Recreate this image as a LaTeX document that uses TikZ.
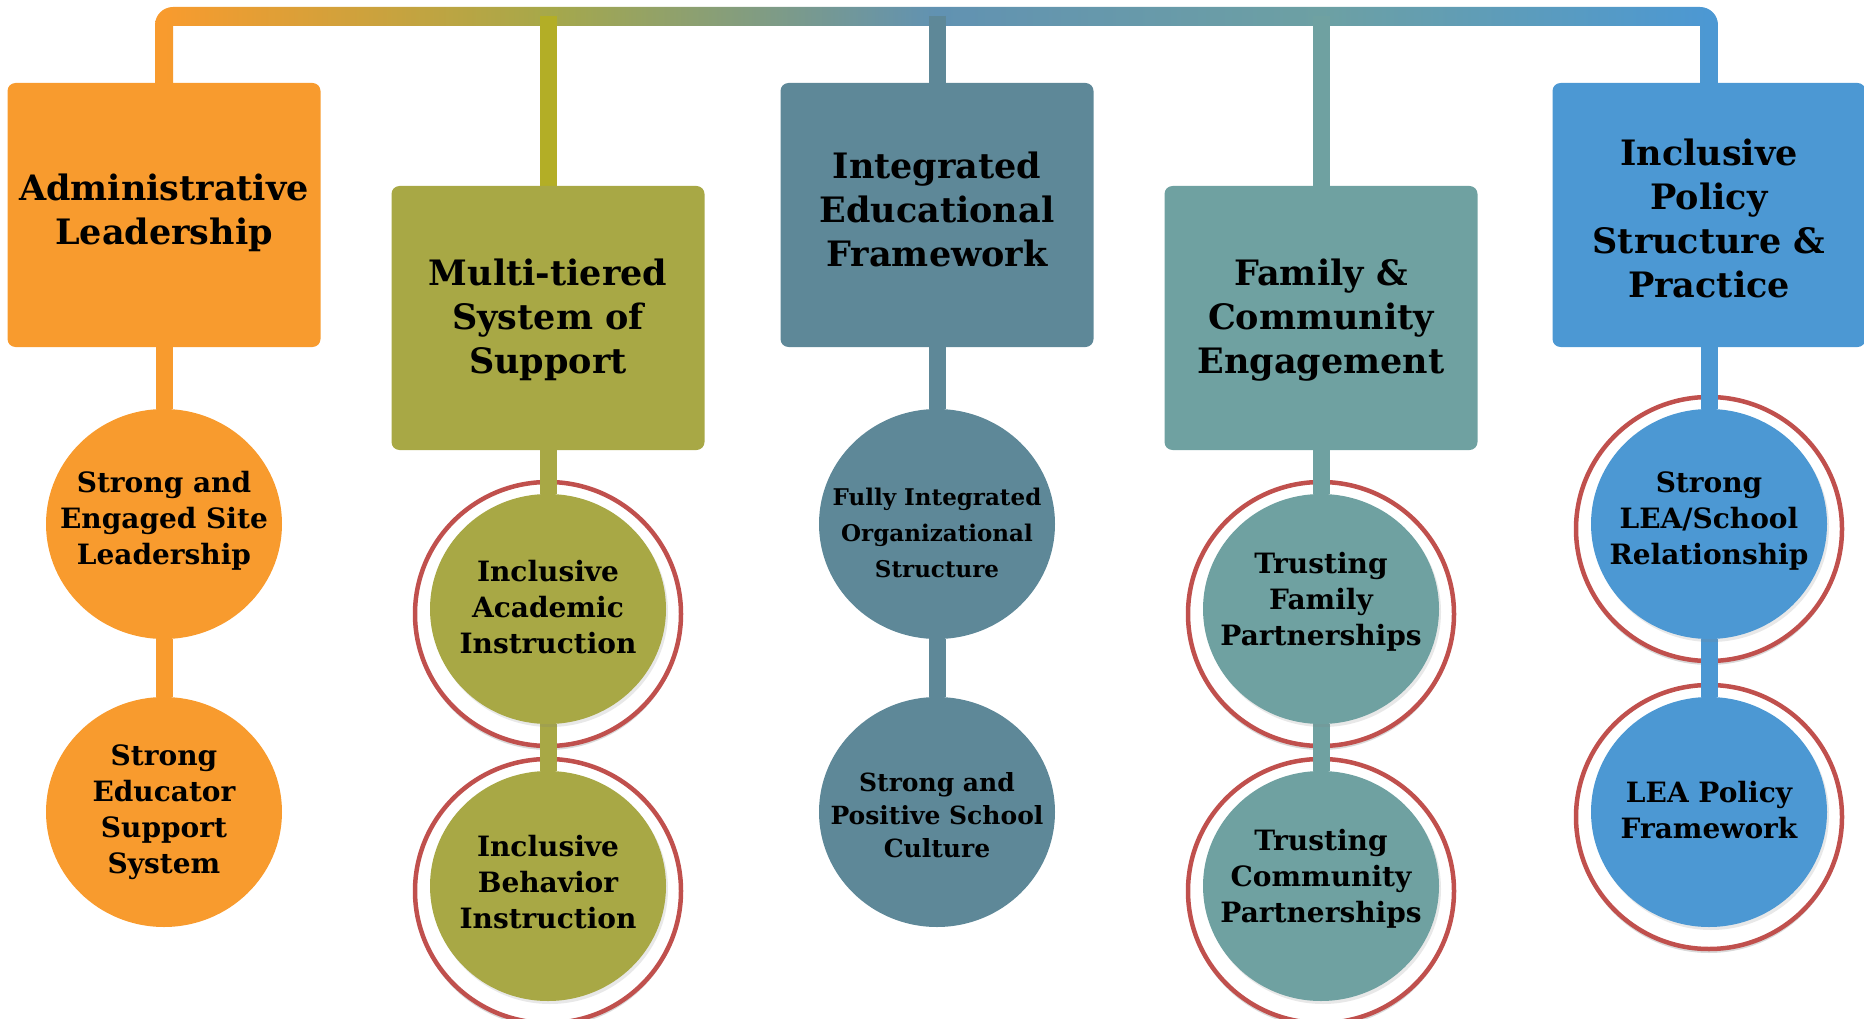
\documentclass[tikz,border=0pt]{standalone}
\usepackage{fontspec}
\setmainfont{DejaVu Serif}
\usetikzlibrary{shapes.geometric}
\usetikzlibrary{shadows}

\definecolor{orangeA}{HTML}{F89B2E}
\definecolor{oliveB}{HTML}{A8A845}
\definecolor{oliveBar}{HTML}{B3AE26}
\definecolor{slateC}{HTML}{5E8898}
\definecolor{tealD}{HTML}{6FA1A1}
\definecolor{blueE}{HTML}{4C98D3}
\definecolor{ringred}{HTML}{C0504D}
\definecolor{barOlive}{HTML}{A6A84A}
\definecolor{barSlate}{HTML}{6192B2}
\definecolor{barTeal}{HTML}{6DA0A3}

\pgfdeclarehorizontalshading{barshade}{100bp}{color(0bp)=(orangeA); color(25.3bp)=(orangeA); color(37.6bp)=(barOlive); color(50bp)=(barSlate); color(62.3bp)=(barTeal); color(74.7bp)=(blueE); color(100bp)=(blueE)}

\pgfdeclarelayer{back}
\pgfdeclarelayer{mid}
\pgfsetlayers{back,mid,main}

\newcommand{\btext}[2][6pt]{\makebox[0pt]{\smash{\raisebox{-#1}{\begin{tabular}{@{}c@{}}#2\end{tabular}}}}}

\tikzset{
  pillar/.style={rectangle, rounded corners=8pt, minimum width=313pt, minimum height=264pt, inner sep=0pt, font=\bfseries\fontsize{35}{44}\selectfont},
  bubble/.style={ellipse, minimum width=236pt, minimum height=230pt, inner sep=0pt, font=\bfseries\fontsize{28}{36}\selectfont},
  ringed/.style={drop shadow={shadow xshift=2pt, shadow yshift=-3pt, opacity=0.18}},
  halo/.style={ellipse, minimum width=266pt, minimum height=264pt, inner sep=0pt, fill=white, draw=ringred, line width=4.5pt, yshift=-5pt, drop shadow={shadow xshift=0pt, shadow yshift=-4pt, opacity=0.3}},
  stemline/.style={line width=17pt},
}

\begin{document}
\begin{tikzpicture}[x=1pt,y=1pt]
\useasboundingbox (0,0) rectangle (1864,-1019);

\node[pillar,fill=orangeA] (A) at (164,-215) {\btext[4.5pt]{Administrative\\Leadership}};
\node[pillar,fill=oliveB] (B) at (548,-318) {\btext[9pt]{Multi-tiered\\System of\\Support}};
\node[pillar,fill=slateC] (C) at (937,-215) {\btext[5pt]{Integrated\\Educational\\Framework}};
\node[pillar,fill=tealD] (D) at (1321,-318) {\btext[9pt]{Family \&\\Community\\Engagement}};
\node[pillar,fill=blueE] (E) at (1709,-215) {\btext[13.5pt]{Inclusive\\Policy\\Structure \&\\Practice}};

\node[bubble,fill=orangeA] (A1) at (164,-524) {\btext[4pt]{Strong and\\Engaged Site\\Leadership}};
\node[bubble,fill=orangeA] (A2) at (164,-812) {\btext[7pt]{Strong\\Educator\\Support\\System}};
\node[bubble,ringed,fill=oliveB] (B1) at (548,-609) {\btext[8pt]{Inclusive\\Academic\\Instruction}};
\node[bubble,ringed,fill=oliveB] (B2) at (548,-886) {\btext{Inclusive\\Behavior\\Instruction}};
\node[bubble,fill=slateC,font=\bfseries\fontsize{23}{36}\selectfont] (C1) at (937,-524) {\btext[17pt]{Fully Integrated\\Organizational\\Structure}};
\node[bubble,fill=slateC,font=\bfseries\fontsize{25}{33}\selectfont] (C2) at (937,-812) {\btext[12pt]{Strong and\\Positive School\\Culture}};
\node[bubble,ringed,fill=tealD] (D1) at (1321,-609) {\btext[0pt]{Trusting\\Family\\Partnerships}};
\node[bubble,ringed,fill=tealD] (D2) at (1321,-886) {\btext[0pt]{Trusting\\Community\\Partnerships}};
\node[bubble,ringed,fill=blueE] (E1) at (1709,-524) {\btext[4pt]{Strong\\LEA/School\\Relationship}};
\node[bubble,ringed,fill=blueE] (E2) at (1709,-812) {\btext[8pt]{LEA Policy\\Framework}};

\begin{pgfonlayer}{back}
\node[halo] (B1r) at (B1) {};
\node[halo] (B2r) at (B2) {};
\node[halo] (D1r) at (D1) {};
\node[halo] (D2r) at (D2) {};
\node[halo] (E1r) at (E1) {};
\node[halo] (E2r) at (E2) {};
\end{pgfonlayer}

\coordinate (barB) at (548,-16);
\coordinate (barC) at (937,-16);
\coordinate (barD) at (1321,-16);

\begin{pgfonlayer}{mid}
\shade[shading=barshade] (155,-120) -- (155,-25) arc[start angle=180,end angle=90,radius=18] -- (1700,-7) arc[start angle=90,end angle=0,radius=18] -- (1718,-120) -- (1700,-120) -- (1700,-26) -- (173,-26) -- (173,-120) -- cycle;
\path[stemline,oliveBar] (barB) edge (B);
\path[stemline,slateC] (barC) edge (C);
\path[stemline,tealD] (barD) edge (D);
\path[stemline,orangeA] (A) edge (A1) (A1) edge (A2);
\path[stemline,oliveB] (B) edge (B1) (B1) edge (B2);
\path[stemline,slateC] (C) edge (C1) (C1) edge (C2);
\path[stemline,tealD] (D) edge (D1) (D1) edge (D2);
\path[stemline,blueE] (E) edge (E1) (E1) edge (E2);
\end{pgfonlayer}
\end{tikzpicture}
\end{document}
